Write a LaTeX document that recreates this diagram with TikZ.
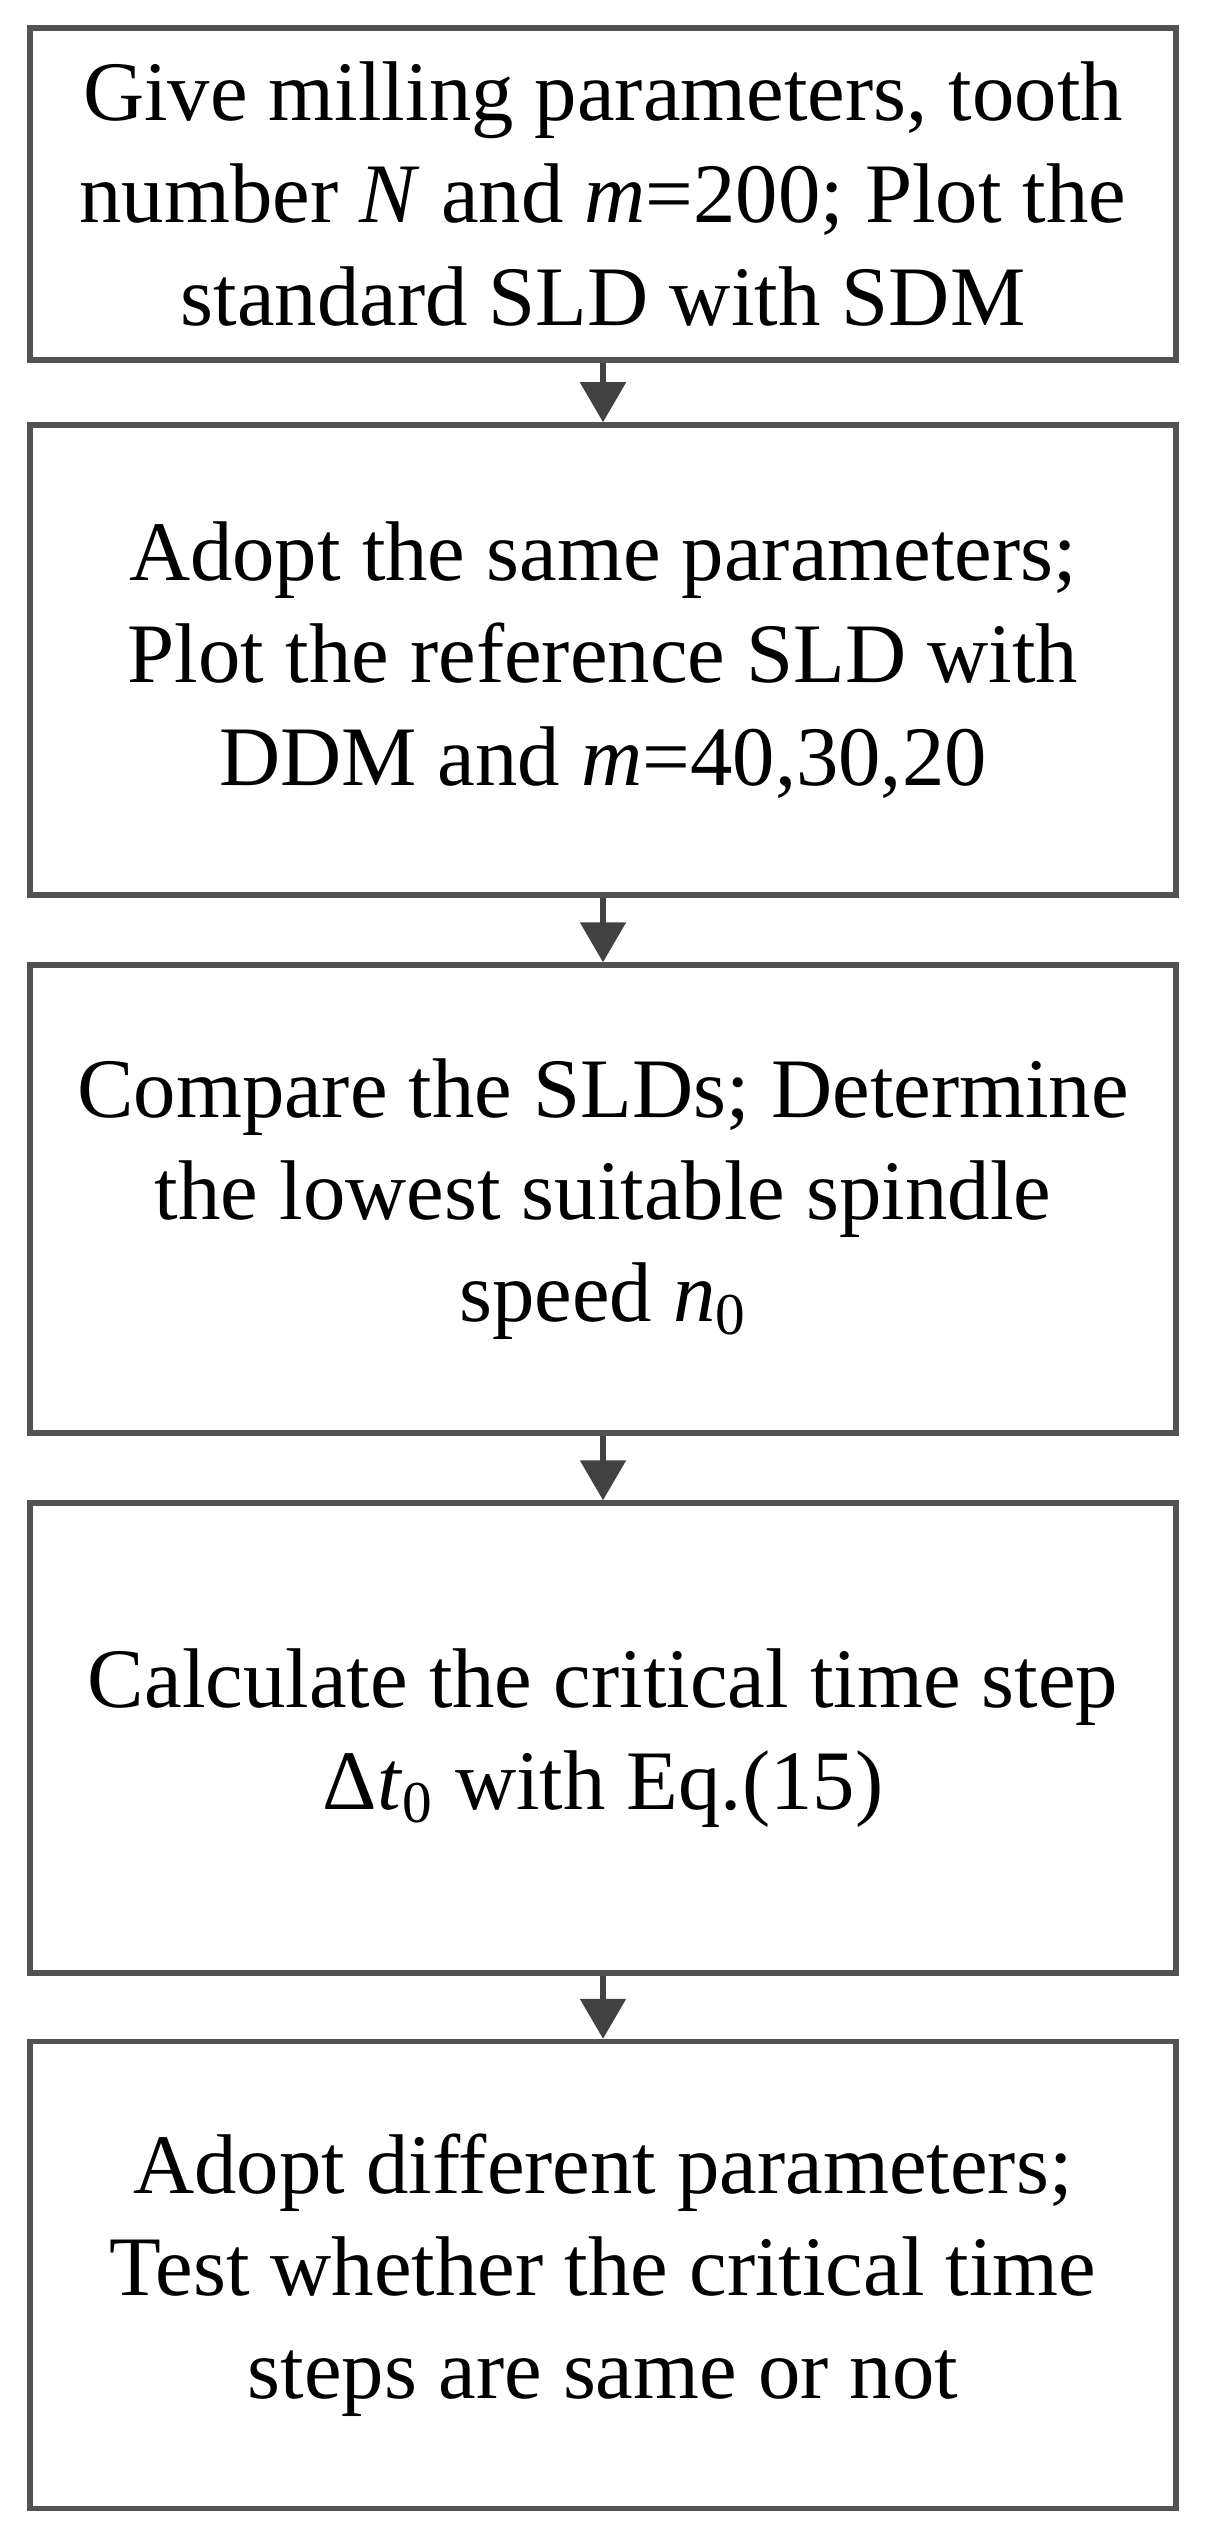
\documentclass[tikz,border=0pt]{standalone}
\usepackage{fontspec}
\setmainfont{Liberation Serif}
\usetikzlibrary{arrows.meta}
\definecolor{boxgray}{gray}{0.32}
\definecolor{arrgray}{gray}{0.26}
\begin{document}
\begin{tikzpicture}[x=0.1mm,y=-0.1mm,
  box/.style={draw=boxgray, line width=0.55mm, fill=white, minimum width=114.6mm,
    align=center, inner sep=0pt, font=\fontsize{24.1}{29.1}\selectfont},
  arr/.style={draw=arrgray, line width=0.55mm, -{Triangle[width=4.5mm,length=4mm]}}]
\useasboundingbox (0,0) rectangle (1210,2542);
\fill[white] (0,0) rectangle (1210,2542);
\node[box, minimum height=33.2mm] (b1) at (603,194)
  {Give milling parameters, tooth\\ number \textit{N} and \textit{m}=200; Plot the\\ standard SLD with SDM};
\node[box, minimum height=47mm] (b2) at (603,660)
  {Adopt the same parameters;\\ Plot the reference SLD with\\ DDM and \textit{m}=40,30,20};
\node[box, minimum height=46.8mm] (b3) at (603,1199)
  {Compare the SLDs; Determine\\ the lowest suitable spindle\\ speed \textit{n}\textsubscript{0}};
\node[box, minimum height=47mm] (b4) at (603,1738)
  {Calculate the critical time step\\ Δ\textit{t}\textsubscript{0} with Eq.(15)};
\node[box, minimum height=46.7mm] (b5) at (603,2275)
  {Adopt different parameters;\\ Test whether the critical time\\ steps are same or not};
\draw[arr] (b1.south) -- (b2.north);
\draw[arr] (b2.south) -- (b3.north);
\draw[arr] (b3.south) -- (b4.north);
\draw[arr] (b4.south) -- (b5.north);
\end{tikzpicture}
\end{document}
